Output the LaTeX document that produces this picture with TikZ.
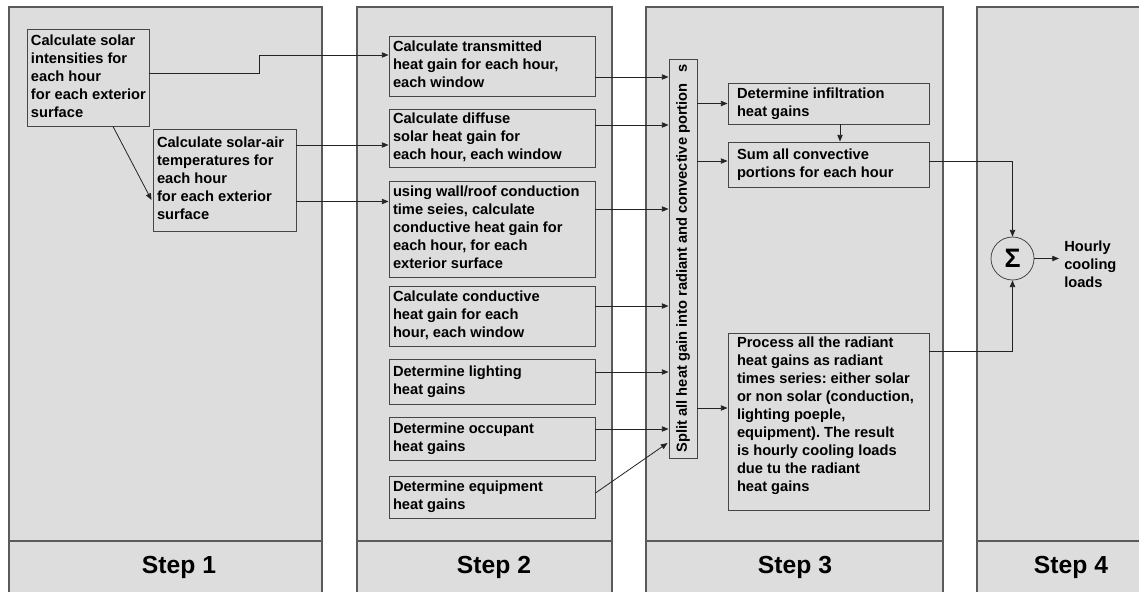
\documentclass[tikz,border=0pt]{standalone}
\usepackage{fontspec}
\setmainfont{Liberation Sans}
\usetikzlibrary{arrows.meta,calc}

\definecolor{panel}{RGB}{221,221,221}
\definecolor{panelline}{RGB}{90,90,90}
\definecolor{boxline}{RGB}{70,70,70}
\definecolor{wire}{RGB}{35,35,35}

\frenchspacing
\newcommand{\boxfont}{\fontsize{11pt}{13.5pt}\selectfont\bfseries}
\newcommand{\stepfont}{\fontsize{18.5pt}{22pt}\selectfont\bfseries}
\newcommand{\sigmafont}{\fontsize{20pt}{24pt}\selectfont\bfseries}
% left-aligned block of lines inside a box of fixed inner width
\newcommand{\boxlines}[2]{\makebox[#1][l]{\begin{tabular}{@{}l@{}}#2\end{tabular}}}

\tikzset{
  panelbox/.style={draw=panelline, fill=panel, line width=0.9pt},
  box/.style={draw=boxline, fill=panel, line width=0.7pt, inner sep=0pt, font=\boxfont},
  sized/.style 2 args={minimum width=#1*0.75pt, minimum height=#2*0.75pt},
  arr/.style={draw=wire, line width=0.6pt, -{Triangle[length=5pt,width=4pt]}},
  steplabel/.style={font=\stepfont, inner sep=0pt}
}

\begin{document}
\begin{tikzpicture}[x=0.75pt,y=-0.75pt]

\useasboundingbox (0,0) rectangle (1139,592);
\clip (0,0) rectangle (1139,592);
\fill[white] (0,0) rectangle (1139,592);

% the four step columns
\path[panelbox] (9,7) rectangle (322,600);
\draw[panelline, line width=0.9pt] (9,541) -- (322,541);
\path[panelbox] (357,7) rectangle (612,600);
\draw[panelline, line width=0.9pt] (357,541) -- (612,541);
\path[panelbox] (646,7) rectangle (943,600);
\draw[panelline, line width=0.9pt] (646,541) -- (943,541);
\path[panelbox] (977,7) rectangle (1165,600);
\draw[panelline, line width=0.9pt] (977,541) -- (1165,541);

\node[steplabel] (st1) at (179,567) {Step 1};
\node[steplabel] (st2) at (494,567) {Step 2};
\node[steplabel] (st3) at (795,567) {Step 3};
\node[steplabel] (st4) at (1071,567) {Step 4};

% Step 1
\node[box, sized={122}{97}] (A) at (88,77.5)
  {\boxlines{85.5pt}{Calculate solar\\intensities for\\each hour\\for each exterior\\surface}};
\node[box, sized={143}{102}] (B) at (224.5,180)
  {\boxlines{101.25pt}{Calculate solar-air\\temperatures for\\each hour\\for each exterior\\surface}};

% Step 2
\node[box, sized={206}{60}] (T) at (492,66)
  {\boxlines{148.5pt}{Calculate transmitted\\heat gain for each hour,\\each window}};
\node[box, sized={206}{58}] (D) at (492,138)
  {\boxlines{148.5pt}{Calculate diffuse\\solar heat gain for\\each hour, each window}};
\node[box, sized={206}{96}] (W) at (492,229)
  {\boxlines{148.5pt}{using wall/roof conduction\\time seies, calculate\\conductive heat gain for\\each hour, for each\\exterior surface}};
\node[box, sized={206}{60}] (CW) at (492,316)
  {\boxlines{148.5pt}{Calculate conductive\\heat gain for each\\hour, each window}};
\node[box, sized={206}{45}] (L) at (492,381.5)
  {\boxlines{148.5pt}{Determine lighting\\heat gains}};
\node[box, sized={206}{43}] (O) at (492,438.5)
  {\boxlines{148.5pt}{Determine occupant\\heat gains}};
\node[box, sized={206}{42}] (E) at (492,497)
  {\boxlines{148.5pt}{Determine equipment\\heat gains}};

% Step 3
\node[box, sized={28}{399}] (bar) at (683,258.5)
  {\rotatebox{90}{Split all heat gain into radiant and convective portion\hspace{0.7em}s}};
\node[box, sized={201}{41}] (I) at (828.5,103.5)
  {\boxlines{137.25pt}{Determine infiltration\\heat gains}};
\node[box, sized={201}{45}] (S) at (828.5,164.5)
  {\boxlines{137.25pt}{Sum all convective\\portions for each hour}};
\node[box, sized={201}{177}] (P) at (828.5,421.5)
  {\boxlines{137.25pt}{Process all the radiant\\heat gains as radiant\\times series: either solar\\or non solar (conduction,\\lighting poeple,\\equipment). The result\\is hourly cooling loads\\due tu the radiant\\heat gains\\[8pt]}};

% Step 4
\node[draw=boxline, fill=panel, circle, line width=0.6pt, minimum size=43*0.75pt, inner sep=0pt,
  font=\sigmafont] (sig) at (1012.5,258.5) {Σ};
\node[anchor=west, inner sep=0pt, font=\boxfont, align=left] (out) at (1064,264.5)
  {Hourly\\cooling\\loads};

% Step 1 connectors
\draw[arr] ($(A.south)+(25,0)$) -- ($(B.west)+(-1,20)$);
\draw[arr] ($(A.east)+(0,-4.5)$) -- ++(110,0) |- ($(T.west)+(0,-11)$);
\coordinate (dIn) at ($(D.west)+(0,7)$);
\draw[arr] (B.east |- dIn) -- (dIn);
\coordinate (wIn) at ($(W.west)+(0,-27.5)$);
\draw[arr] (B.east |- wIn) -- (wIn);

% Step 2 into the split bar
\draw[arr] ($(T.east)+(0,11)$) coordinate (t1) -- (bar.west |- t1);
\draw[arr] ($(D.east)+(0,-13)$) coordinate (t2) -- (bar.west |- t2);
\draw[arr] ($(W.east)+(0,-20)$) coordinate (t3) -- (bar.west |- t3);
\draw[arr] ($(CW.east)+(0,-10)$) coordinate (t4) -- (bar.west |- t4);
\draw[arr] ($(L.east)+(0,-9.5)$) coordinate (t5) -- (bar.west |- t5);
\draw[arr] ($(O.east)+(0,-9.5)$) coordinate (t6) -- (bar.west |- t6);
\draw[arr] ($(E.east)+(0,-4)$) -- ($(bar.west)+(-1,184.5)$);

% split bar to Step 3 boxes
\draw[arr] (bar.east |- I.west) -- (I.west);
\coordinate (sIn) at ($(S.west)+(0,-3.5)$);
\draw[arr] (bar.east |- sIn) -- (sIn);
\coordinate (pIn) at ($(P.west)+(0,-13.5)$);
\draw[arr] (bar.east |- pIn) -- (pIn);
\draw[arr] ($(I.south)+(11.5,0)$) -- ($(S.north)+(11.5,0)$);

% summation
\draw[arr] ($(S.east)+(0,-3.5)$) -| (sig.north);
\draw[arr] ($(P.east)+(0,-70.5)$) -| (sig.south);
\draw[arr, shorten >=3.75pt] (sig.east) -- (sig.east -| out.west);

\end{tikzpicture}
\end{document}
